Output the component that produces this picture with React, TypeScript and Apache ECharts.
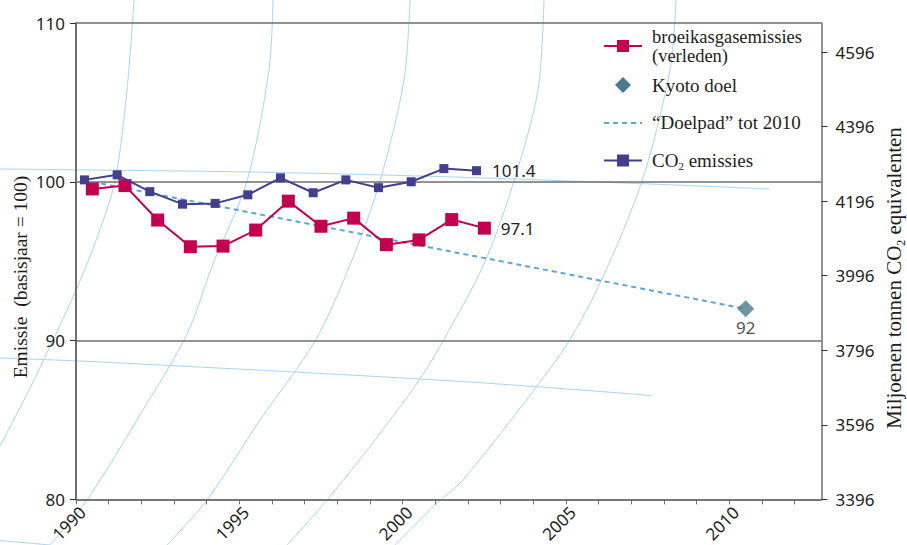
import React, { useEffect, useRef } from "react";
import * as echarts from "echarts";

// ---- data ----
const years = [1990, 1991, 1992, 1993, 1994, 1995, 1996, 1997, 1998, 1999, 2000, 2001, 2002];
const ghgIndex = [99.55, 99.76, 97.59, 95.91, 95.95, 96.96, 98.78, 97.2, 97.71, 96.04, 96.34, 97.62, 97.08];
const co2Index = [100.12, 100.44, 99.38, 98.59, 98.64, 99.18, 100.25, 99.31, 100.12, 99.63, 100.0, 100.83, 100.7];
const targetPathYears = [1990, 2010];
const targetPathValues = [100, 92];
const kyotoYear = 2010;
const kyotoTarget = 92;
const ghgLastLabel = "97.1";
const co2LastLabel = "101.4";
const kyotoLabel = "92";
const leftTicks = [80, 90, 100, 110];
const rightTicks = [3396, 3596, 3796, 3996, 4196, 4396, 4596];
const rightAtIndexMin = 3396; // Mt CO2-eq at index 80
const mtPerIndexPoint = 42.6;
const xLabelYears = [1990, 1995, 2000, 2005, 2010];
const xTickBoundaries = [
  1989.5, 1990.5, 1991.5, 1992.5, 1993.5, 1994.5, 1995.5, 1996.5, 1997.5, 1998.5, 1999.5,
  2000.5, 2001.5, 2002.5, 2003.5, 2004.5, 2005.5, 2006.5, 2007.5, 2008.5, 2009.5, 2010.5, 2011.5,
];
const legendNames = ["broeikasgasemissies", "(verleden)", "Kyoto doel", "\u201cDoelpad\u201d tot 2010", "CO2 emissies"];

// ---- styling ----
const RED = "#c3004f";
const BLUE = "#423f8c";
const TEAL = "#487b8b";
const DASH = "#5fa7d3";
const DECOR = "#a9d4f4";
const AXIS = "#6e6e6e";
const TEXT = "#1d1d1b";
const SERIF = '"Liberation Serif", "DejaVu Serif", serif';
const SANS = '"Noto Sans", "Open Sans", sans-serif';

const X_MIN = 1989.5;
const X_MAX = 2012.32;
const CO2_SHIFT = -0.24;
const LABEL_SHIFT = -0.3;

const decorCurves: number[][][] = [
  [[134, 0], [127, 90], [115, 181], [98, 235], [77, 288], [33, 382], [0, 446]],
  [[273, 0], [269, 70], [247, 181], [213, 264], [187, 334], [143, 410], [87, 500], [50, 545]],
  [[410, 0], [404, 80], [380, 181], [352, 260], [315, 341], [260, 420], [207, 500], [167, 545]],
  [[544, 0], [538, 90], [514, 181], [484, 264], [443, 341], [420, 379], [375, 440], [327, 500], [287, 545]],
  [[676, 0], [670, 70], [642, 181], [601, 281], [569, 341], [537, 386], [463, 480], [437, 503], [395, 545]],
  [[0, 169], [250, 172], [454, 177], [650, 184], [769, 189]],
  [[0, 358], [90, 361.5], [454, 381], [652, 395.5]],
  [[0, 540.5], [50, 545]],
];

export default function App() {
  const ref = useRef<HTMLDivElement>(null);
  useEffect(() => {
    if (!ref.current) return;
    const chart = echarts.init(ref.current, null, { renderer: "svg" });
    const lastIdx = years.length - 1;

    const ghgData = years.map((y, i) =>
      i === lastIdx
        ? {
            value: [y, ghgIndex[i]],
            label: { show: true, position: "right", distance: 10, formatter: ghgLastLabel },
          }
        : { value: [y, ghgIndex[i]] }
    );
    const co2Data = years.map((y, i) =>
      i === lastIdx
        ? {
            value: [y + CO2_SHIFT, co2Index[i]],
            label: { show: true, position: "right", distance: 11, formatter: co2LastLabel },
          }
        : { value: [y + CO2_SHIFT, co2Index[i]] }
    );
    const pathData = targetPathYears.map((y, i) => [y, targetPathValues[i]]);

    const labelFont = { fontFamily: SANS, fontSize: 17, color: TEXT };

    const decor = decorCurves.map((pts) => ({
      type: "polyline",
      z: -1,
      silent: true,
      shape: { points: pts, smooth: 0.3 },
      style: { stroke: DECOR, lineWidth: 1, fill: null },
    }));

    const legendText = (text: string, y: number, size = 19) => ({
      type: "text",
      x: 652,
      y,
      style: { text, fontFamily: SERIF, fontSize: size, fill: TEXT, align: "left", verticalAlign: "middle" },
    });

    const legend = [
      { type: "line", shape: { x1: 604, y1: 46, x2: 642, y2: 46 }, style: { stroke: RED, lineWidth: 2 } },
      { type: "rect", shape: { x: 617, y: 40, width: 12, height: 12 }, style: { fill: RED } },
      legendText(legendNames[0], 37, 18.5),
      legendText(legendNames[1], 55.5, 18.5),
      {
        type: "polygon",
        shape: { points: [[623, 77], [631, 85], [623, 93], [615, 85]] },
        style: { fill: TEAL },
      },
      legendText(legendNames[2], 85),
      {
        type: "line",
        shape: { x1: 604, y1: 123, x2: 642, y2: 123 },
        style: { stroke: DASH, lineWidth: 2, lineDash: [5, 4] },
      },
      legendText(legendNames[3], 122),
      { type: "line", shape: { x1: 604, y1: 160.5, x2: 642, y2: 160.5 }, style: { stroke: BLUE, lineWidth: 2 } },
      { type: "rect", shape: { x: 617, y: 154.5, width: 12, height: 12 }, style: { fill: BLUE } },
      {
        type: "text",
        x: 652,
        y: 160,
        style: {
          text: "{a|CO}{s|2}{a| emissies}",
          rich: {
            a: { fontFamily: SERIF, fontSize: 19, fill: TEXT },
            s: { fontFamily: SERIF, fontSize: 11, fill: TEXT, padding: [12, 0, 0, 0] },
          },
          align: "left",
          verticalAlign: "middle",
        },
      },
    ];

    const titles = [
      {
        type: "text",
        x: 20,
        y: 277,
        rotation: Math.PI / 2,
        style: {
          text: "Emissie  (basisjaar = 100)",
          fontFamily: SERIF,
          fontSize: 19.5,
          fill: TEXT,
          align: "center",
          verticalAlign: "middle",
        },
      },
      {
        type: "text",
        x: 894,
        y: 278,
        rotation: Math.PI / 2,
        style: {
          text: "{a|Miljoenen tonnen CO}{s|2}{a| equivalenten}",
          rich: {
            a: { fontFamily: SERIF, fontSize: 21, fill: TEXT },
            s: { fontFamily: SERIF, fontSize: 12, fill: TEXT, padding: [13, 0, 0, 0] },
          },
          align: "center",
          verticalAlign: "middle",
        },
      },
    ];

    chart.setOption({
      animation: false,
      backgroundColor: "#ffffff",
      grid: { left: 76, right: 85.5, top: 23, bottom: 45, containLabel: false },
      xAxis: {
        type: "value",
        min: X_MIN,
        max: X_MAX,
        axisLine: { show: true, lineStyle: { color: AXIS, width: 1.5 } },
        axisTick: { show: true, inside: false, length: 5, customValues: xTickBoundaries, lineStyle: { color: AXIS, width: 1 } },
        axisLabel: {
          show: true,
          rotate: 45,
          margin: 10,
          customValues: xLabelYears.map((y) => y + LABEL_SHIFT),
          formatter: (v: number) => String(Math.round(v)),
          ...labelFont,
        },
        splitLine: { show: false },
      },
      yAxis: [
        {
          type: "value",
          position: "left",
          min: leftTicks[0],
          max: leftTicks[leftTicks.length - 1],
          interval: 10,
          axisLine: { show: true, lineStyle: { color: AXIS, width: 2 } },
          axisTick: { show: true, inside: false, length: 6, lineStyle: { color: "#333", width: 1 } },
          axisLabel: { margin: 11, ...labelFont },
          splitLine: { show: true, lineStyle: { color: AXIS, width: 1.5 } },
        },
        {
          type: "value",
          position: "right",
          min: rightAtIndexMin,
          max: rightAtIndexMin + (leftTicks[leftTicks.length - 1] - leftTicks[0]) * mtPerIndexPoint,
          axisLine: { show: true, lineStyle: { color: AXIS, width: 1.5 } },
          axisTick: { show: true, inside: false, length: 6, customValues: rightTicks, lineStyle: { color: "#333", width: 1 } },
          axisLabel: { margin: 14, customValues: rightTicks, formatter: (v: number) => String(Math.round(v)), ...labelFont },
          splitLine: { show: false },
        },
      ],
      series: [
        {
          name: legendNames[3],
          type: "line",
          data: pathData,
          symbol: "none",
          lineStyle: { color: DASH, width: 2, type: [5, 4] },
          z: 2,
        },
        {
          name: legendNames[0],
          type: "line",
          data: ghgData,
          symbol: "rect",
          symbolSize: 13,
          itemStyle: { color: RED },
          lineStyle: { color: RED, width: 2 },
          label: { ...labelFont },
          z: 3,
        },
        {
          name: legendNames[4],
          type: "line",
          data: co2Data,
          symbol: "rect",
          symbolSize: 9,
          itemStyle: { color: BLUE },
          lineStyle: { color: BLUE, width: 2 },
          label: { ...labelFont },
          z: 4,
        },
        {
          name: legendNames[2],
          type: "scatter",
          data: [
            {
              value: [kyotoYear, kyotoTarget],
              label: { show: true, position: "bottom", distance: 2, formatter: kyotoLabel, ...labelFont },
            },
          ],
          symbol: "diamond",
          symbolSize: [17, 17],
          itemStyle: { color: TEAL },
          z: 5,
        },
      ],
      graphic: [...decor, ...legend, ...titles],
    });
    return () => chart.dispose();
  }, []);
  return (
    <div
      ref={ref}
      style={{ position: "absolute", left: 0, top: 0, width: 907, height: 545 }}
    />
  );
}
